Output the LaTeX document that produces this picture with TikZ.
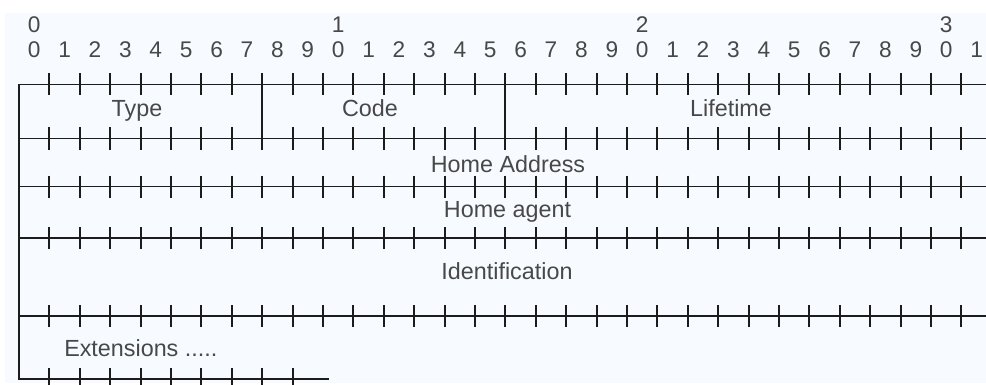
\documentclass[tikz,border=0pt]{standalone}
\usepackage{fontspec}
\setmainfont{Liberation Sans}

\definecolor{pagebg}{RGB}{247,251,255}
\definecolor{rulecol}{RGB}{28,28,28}
\definecolor{labelcol}{RGB}{72,72,72}

\tikzset{
    rule/.style={draw=rulecol, line width=1.4pt},
    field/.style={anchor=base, inner sep=0pt, text=labelcol,
        font=\fontsize{17.5}{20}\selectfont},
    bitnum/.style={field, font=\fontsize{17}{20}\selectfont},
}

\begin{document}
\begin{tikzpicture}[x=0.75pt, y=-0.75pt]
    \useasboundingbox (0,0) rectangle (986,385);
    \fill[pagebg] (5,13) rectangle (986,383);

    % Bit numbering (one bit = 30.4 units, first bit starts at x = 19)
    \foreach \t in {0,1,2,3}
        \node[bitnum] (tens-\t) at ({19+30.4*(10*\t+0.5)},33) {\t};
    \foreach \i in {0,...,31} {
        \pgfmathtruncatemacro{\d}{mod(\i,10)}
        \node[bitnum] (bit-\i) at ({19+30.4*(\i+0.5)},58) {\d};
    }

    % Word boundaries with a tick on every bit
    \foreach \y in {84.5,138.5,186.5,238,316} {
        \draw[rule] (19,\y) -- (990,\y);
        \foreach \i in {1,...,31}
            \draw[rule] ({19+30.4*\i},{\y-11}) -- ++(0,22);
    }

    % Left edge and the open last word
    \draw[rule] (19,84.5) -- (19,379) -- (329,379);
    \foreach \i in {1,...,9}
        \draw[rule] ({19+30.4*\i},368) -- ++(0,22);

    % Field borders in the first word
    \draw[rule] ({19+30.4*8},84.5) -- ++(0,54);
    \draw[rule] ({19+30.4*16},84.5) -- ++(0,54);

    % Fields
    \node[field] (type) at (137,117) {Type};
    \node[field] (code) at (370,117) {Code};
    \node[field] (lifetime) at (731,117) {Lifetime};
    \node[field] (home-address) at (508,172.7) {Home Address};
    \node[field] (home-agent) at (507.5,217.3) {Home agent};
    \node[field] (identification) at (507,279) {Identification};
    \node[field, anchor=base west] (extensions) at (64,356.7) {Extensions .....};
\end{tikzpicture}
\end{document}
